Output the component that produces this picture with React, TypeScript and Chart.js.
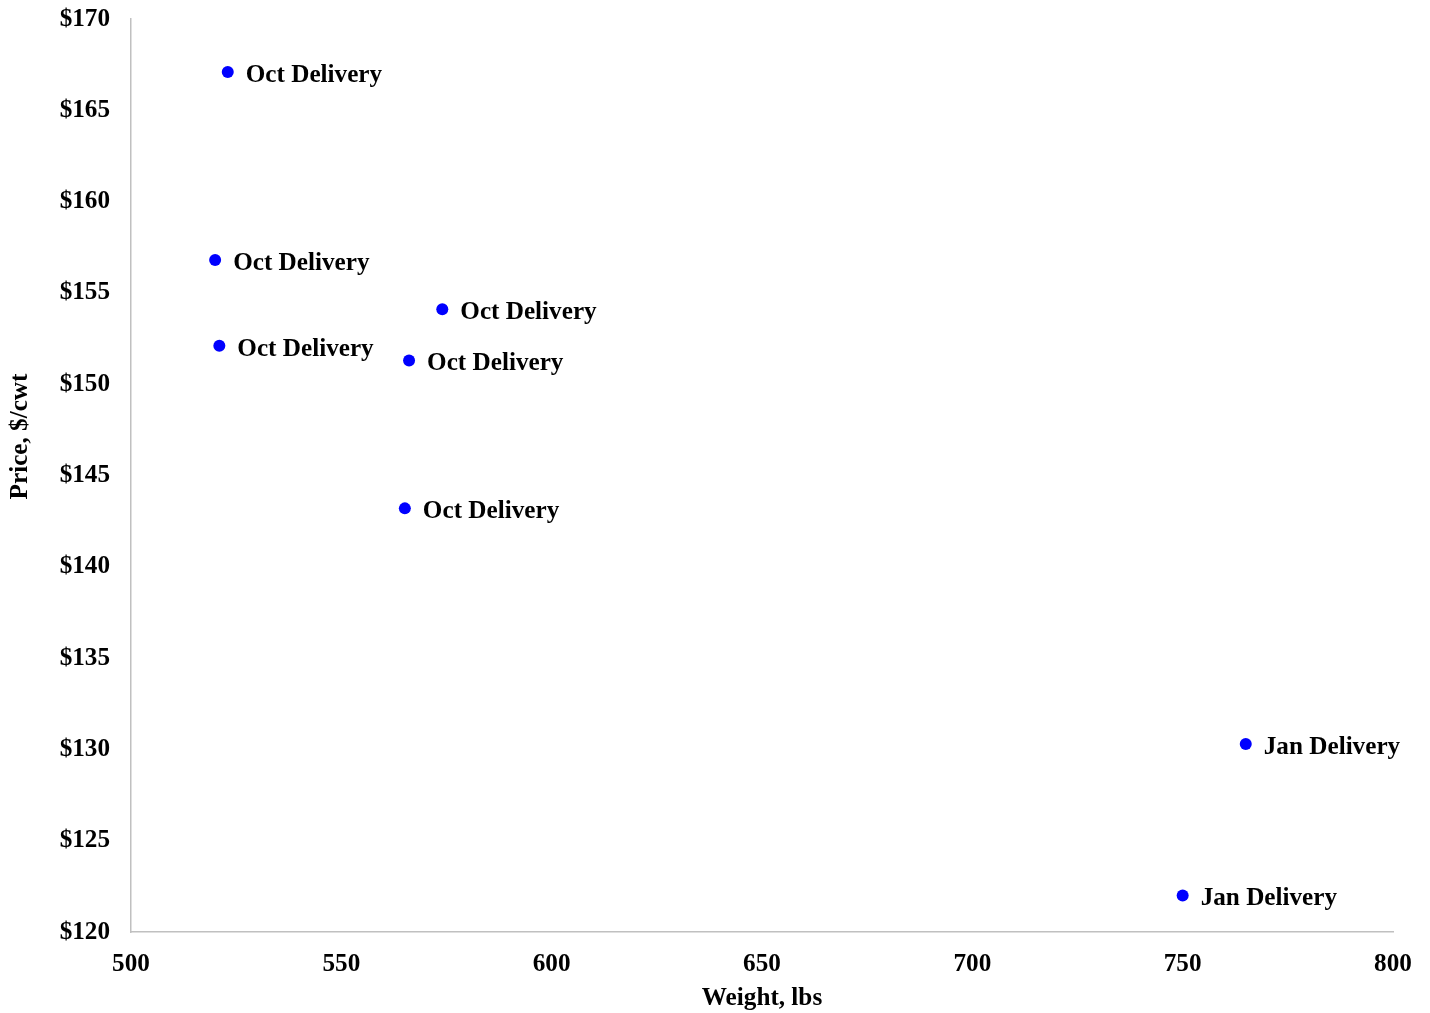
import React, { useEffect, useRef } from "react";
import { Chart, registerables } from "chart.js";

Chart.register(...registerables);

const weights = [523.0, 520.0, 574.0, 521.0, 566.1, 565.1, 765.0, 750.0];
const prices = [167.1, 156.8, 154.1, 152.1, 151.3, 143.2, 130.3, 122.0];
const pointLabels = [
  "Oct Delivery",
  "Oct Delivery",
  "Oct Delivery",
  "Oct Delivery",
  "Oct Delivery",
  "Oct Delivery",
  "Jan Delivery",
  "Jan Delivery",
];
const xTitle = "Weight, lbs";
const yTitle = "Price, $/cwt";

const FONT = "'Liberation Serif', 'Times New Roman', serif";
const FS = 25.2;

const labelPlugin = {
  id: "pointLabels",
  afterDatasetsDraw(chart: any) {
    const ctx = chart.ctx;
    const meta = chart.getDatasetMeta(0);
    ctx.save();
    ctx.font = `bold ${FS}px ${FONT}`;
    ctx.fillStyle = "#000000";
    ctx.textAlign = "left";
    ctx.textBaseline = "middle";
    meta.data.forEach((pt: any, i: number) => {
      ctx.fillText(pointLabels[i], pt.x + 18, pt.y + 3.5);
    });
    // y axis title
    const area = chart.chartArea;
    ctx.translate(20, (area.top + area.bottom) / 2 - 39);
    ctx.rotate(-Math.PI / 2);
    ctx.textAlign = "center";
    ctx.fillText(yTitle, 0, 0);
    ctx.restore();
  },
};

export default function App() {
  const ref = useRef<HTMLCanvasElement>(null);
  useEffect(() => {
    if (!ref.current) return;
    const chart = new Chart(ref.current, {
      type: "scatter",
      data: {
        datasets: [
          {
            data: weights.map((w, i) => ({ x: w, y: prices[i] })),
            backgroundColor: "#0000ff",
            borderColor: "#0000ff",
            pointRadius: 6,
            pointBorderWidth: 0,
          },
        ],
      },
      options: {
        animation: false,
        responsive: false,
        maintainAspectRatio: false,
        layout: { padding: { left: 0, right: 37, top: 19, bottom: 0 } },
        plugins: {
          legend: { display: false },
          tooltip: { enabled: false },
        },
        scales: {
          x: {
            type: "linear",
            min: 500,
            max: 800,
            grid: { display: false, drawTicks: false },
            border: { display: true, color: "#c0c0c0", width: 1.5 },
            ticks: {
              stepSize: 50,
              padding: 17,
              color: "#000000",
              font: { family: FONT, size: FS, weight: "bold" },
            },
            title: {
              display: true,
              text: xTitle,
              color: "#000000",
              padding: { top: 0, bottom: -1 },
              font: { family: FONT, size: FS, weight: "bold" },
            },
            afterFit(scale: any) {
              scale.height = 81;
              scale.paddingLeft = 0;
              scale.paddingRight = 0;
            },
          },
          y: {
            type: "linear",
            min: 120,
            max: 170,
            grid: { display: false, drawTicks: false },
            border: { display: true, color: "#c0c0c0", width: 1.5 },
            ticks: {
              stepSize: 5,
              padding: 21,
              color: "#000000",
              font: { family: FONT, size: FS, weight: "bold" },
              callback: (v: any) => "$" + v,
            },
            afterFit(scale: any) {
              scale.width = 131;
              scale.paddingTop = 0;
              scale.paddingBottom = 0;
            },
          },
        },
      },
      plugins: [labelPlugin],
    });
    return () => chart.destroy();
  }, []);
  return (
    <div style={{ position: "fixed", left: 0, top: 0, width: 1430, height: 1013, background: "#fff" }}>
      <canvas ref={ref} width={1430} height={1013} style={{ width: 1430, height: 1013, display: "block" }} />
    </div>
  );
}
